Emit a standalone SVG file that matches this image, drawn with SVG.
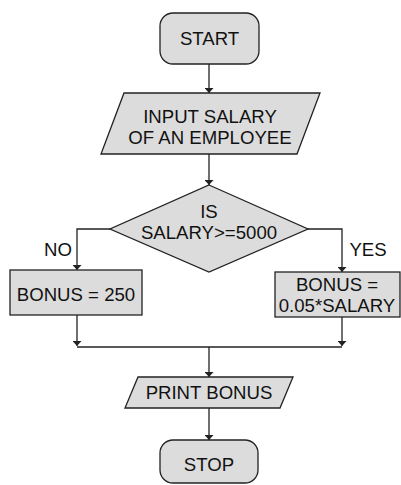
<svg xmlns="http://www.w3.org/2000/svg" width="401" height="485" viewBox="0 0 401 485">
  <style>
    .shape { fill: #dcdcdc; stroke: #222222; stroke-width: 1.3; }
    .line { fill: none; stroke: #222222; stroke-width: 1.3; }
    text { font-family: "Liberation Sans", Arial, sans-serif; font-size: 18.6px; fill: #111111; text-anchor: middle; }
  </style>
  <defs>
    <marker id="arrow" viewBox="0 0 10 10" refX="10" refY="5" markerWidth="5" markerHeight="9" markerUnits="userSpaceOnUse" orient="auto" preserveAspectRatio="none">
      <path d="M0,0 L10,5 L0,10 Z" fill="#222222"/>
    </marker>
  </defs>
  <rect width="401" height="485" fill="#ffffff"/>

  <g id="connectors">
    <line class="line" x1="209" y1="64" x2="209" y2="93" marker-end="url(#arrow)"/>
    <line class="line" x1="209" y1="154" x2="209" y2="185" marker-end="url(#arrow)"/>
    <polyline class="line" points="110,229 77,229 77,270" marker-end="url(#arrow)"/>
    <polyline class="line" points="308,229 342,229 342,272" marker-end="url(#arrow)"/>
    <line class="line" x1="77" y1="315" x2="77" y2="346" marker-end="url(#arrow)"/>
    <line class="line" x1="342" y1="317" x2="342" y2="346" marker-end="url(#arrow)"/>
    <line class="line" x1="77" y1="347" x2="342" y2="347"/>
    <line class="line" x1="209" y1="347" x2="209" y2="377" marker-end="url(#arrow)"/>
    <line class="line" x1="209" y1="408" x2="209" y2="440" marker-end="url(#arrow)"/>
    <text x="58" y="256">NO</text>
    <text x="368" y="256">YES</text>
  </g>

  <g id="start">
    <rect class="shape" x="160" y="13" width="99" height="51" rx="13"/>
    <text x="209.5" y="45">START</text>
  </g>

  <g id="input">
    <polygon class="shape" points="124,93 320,93 297,154 101,154"/>
    <text x="210" y="123">INPUT SALARY</text>
    <text x="210" y="144">OF AN EMPLOYEE</text>
  </g>

  <g id="decision">
    <polygon class="shape" points="209,185 308,229 209,272 110,229"/>
    <text x="209" y="218">IS</text>
    <text x="209" y="239">SALARY&gt;=5000</text>
  </g>

  <g id="bonus-low">
    <rect class="shape" x="10" y="270" width="132" height="45"/>
    <text x="76" y="301">BONUS = 250</text>
  </g>

  <g id="bonus-high">
    <rect class="shape" x="275" y="272" width="125" height="45"/>
    <text x="337" y="291">BONUS =</text>
    <text x="337" y="312">0.05*SALARY</text>
  </g>

  <g id="print">
    <polygon class="shape" points="138,377 293,377 280,408 125,408"/>
    <text x="209" y="399">PRINT BONUS</text>
  </g>

  <g id="stop">
    <rect class="shape" x="160" y="440" width="98" height="43" rx="13"/>
    <text x="209" y="471">STOP</text>
  </g>
</svg>
